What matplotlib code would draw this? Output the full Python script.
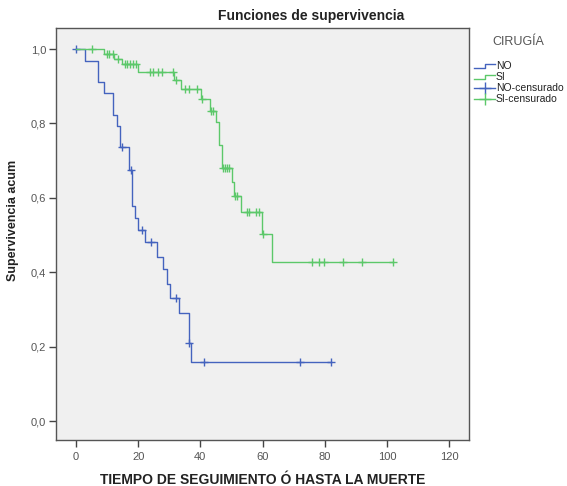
import numpy as np
import matplotlib
matplotlib.use("Agg")
import matplotlib.pyplot as plt
from matplotlib.lines import Line2D
from matplotlib.legend_handler import HandlerBase

plt.rcParams['font.family'] = ['Liberation Sans', 'DejaVu Sans']

# ---- data ----
no_times = [0, 3.0, 7.0, 9.0, 12.0, 13.1, 14.2, 17.2, 18.1, 19.1, 20.0, 22.1, 26.0, 28.1, 29.2, 30.2, 33.0, 36.2, 37.0]
no_surv = [1.0, 0.969, 0.910, 0.883, 0.823, 0.793, 0.736, 0.675, 0.579, 0.545, 0.513, 0.482, 0.442, 0.408, 0.368, 0.331, 0.291, 0.209, 0.158]
no_end = 82.0
no_cens = [0, 14.9, 17.6, 21.1, 24.0, 32.2, 36.5, 41.2, 71.9, 82.0]

si_times = [0, 9.0, 12.3, 14.9, 20.0, 31.6, 33.7, 40.1, 43.1, 44.9, 46.0, 47.1, 50.1, 50.9, 53.0, 59.9, 63.0]
si_surv = [1.0, 0.987, 0.972, 0.959, 0.937, 0.917, 0.892, 0.865, 0.834, 0.805, 0.742, 0.681, 0.643, 0.605, 0.563, 0.503, 0.428]
si_end = 102.0
si_cens = [5.0, 9.9, 10.7, 11.8, 13.6, 15.8, 16.5, 17.4, 18.4, 19.2, 23.8, 24.7, 26.5, 27.6, 31.3, 32.2,
           35.1, 36.2, 38.8, 40.4, 43.5, 44.2, 47.3, 47.9, 48.6, 49.2, 51.0, 51.7, 54.9, 55.7, 57.8, 58.7,
           60.3, 75.8, 78.0, 79.9, 85.8, 91.9, 101.9]

x_ticks = [0, 20, 40, 60, 80, 100, 120]
y_ticks = [0.0, 0.2, 0.4, 0.6, 0.8, 1.0]

BLUE = '#4463BE'
GREEN = '#5CC86A'

def step_value(times, surv, t):
    idx = np.searchsorted(np.asarray(times), np.asarray(t), side='right') - 1
    return np.asarray(surv)[idx]

fig = plt.figure(figsize=(5.67, 4.86), dpi=100)
ax = fig.add_axes([56/567, 1-440/486, (469-56)/567, (440-28)/486])
ax.set_facecolor('#F0F0F0')

for times, surv, end, cens, col in [(no_times, no_surv, no_end, no_cens, BLUE),
                                     (si_times, si_surv, si_end, si_cens, GREEN)]:
    tx = list(times) + [end]
    sy = list(surv) + [surv[-1]]
    ax.step(tx, sy, where='post', color=col, lw=1.0)
    ax.plot(cens, step_value(times, surv, cens), ls='none', marker='+', ms=6, mew=1.0, color=col)

ax.set_xlim(-6.43, 126.4)
ax.set_ylim(-0.051, 1.0565)
ax.set_xticks(x_ticks)
ax.set_yticks(y_ticks)
ax.set_xticklabels([str(v) for v in x_ticks])
ax.set_yticklabels([f"{v:.1f}".replace('.', ',') for v in y_ticks])
ax.tick_params(axis='both', direction='out', length=5, width=1, color='#444444',
               labelcolor='#555555', labelsize=8)
ax.tick_params(axis='y', pad=2)
for s in ax.spines.values():
    s.set_color('#555555')
    s.set_linewidth(1.0)

ax.set_xlabel('TIEMPO DE SEGUIMIENTO Ó HASTA LA MUERTE', fontsize=10, fontweight='bold',
              color='#222222', labelpad=8)
fig.text(13/567, 1-220/486, 'Supervivencia acum', rotation=90, fontsize=9, fontweight='bold',
         color='#222222', ha='center', va='center')
fig.text(311/567, 1-16/486, 'Funciones de supervivencia', fontsize=10, fontweight='bold',
         color='#222222', ha='center', va='center')
fig.text(518/567, 1-42/486, 'CIRUGÍA', fontsize=9, color='#555555', ha='center', va='center')


class StepHandler(HandlerBase):
    def create_artists(self, legend, orig_handle, xdescent, ydescent, width, height, fontsize, trans):
        x0 = -xdescent
        xm = x0 + width * 0.5
        x1 = x0 + width
        y0 = -ydescent + height * 0.15
        y1 = -ydescent + height * 0.75
        l = Line2D([x0, xm, xm, x1], [y0, y0, y1, y1], color=orig_handle.get_color(), lw=1.0)
        l.set_transform(trans)
        return [l]


class CrossHandler(HandlerBase):
    def create_artists(self, legend, orig_handle, xdescent, ydescent, width, height, fontsize, trans):
        x0 = -xdescent
        x1 = x0 + width
        yc = -ydescent + height * 0.45
        l = Line2D([x0, x1], [yc, yc], color=orig_handle.get_color(), lw=1.0)
        l.set_transform(trans)
        m = Line2D([x0 + width / 2], [yc], marker='+', ms=8, mew=1.0, color=orig_handle.get_color(), ls='none')
        m.set_transform(trans)
        return [l, m]


h_no = Line2D([], [], color=BLUE)
h_si = Line2D([], [], color=GREEN)
h_noc = Line2D([], [], color=BLUE, marker='+')
h_sic = Line2D([], [], color=GREEN, marker='+')
leg = fig.legend([h_no, h_si, h_noc, h_sic], ['NO', 'SI', 'NO-censurado', 'SI-censurado'],
                 handler_map={h_no: StepHandler(), h_si: StepHandler(),
                              h_noc: CrossHandler(), h_sic: CrossHandler()},
                 loc='upper left', bbox_to_anchor=(467/567, 1-54/486), frameon=False,
                 fontsize=7.5, labelspacing=0.1,
                 handlelength=2.0, handletextpad=0.05, borderpad=0.2)
for t in leg.get_texts():
    t.set_color('#222222')

fig.savefig('out.png', dpi=100, facecolor='white')
